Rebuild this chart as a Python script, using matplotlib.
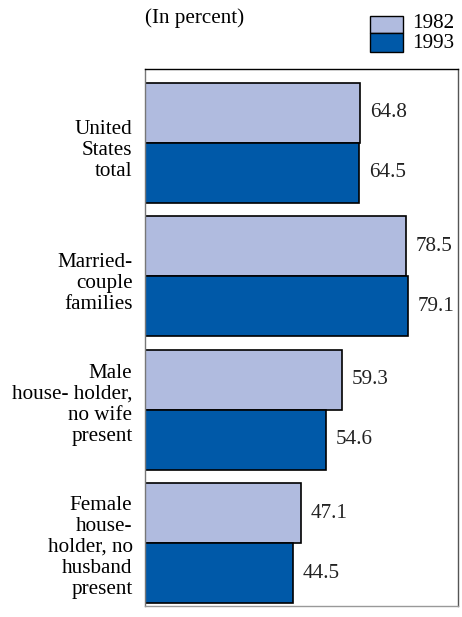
import numpy as np
import matplotlib.pyplot as plt
from matplotlib.patches import Rectangle

# dane
categories = ["United\nStates\ntotal", "Married-\ncouple\nfamilies",
              "Male\nhouse- holder,\nno wife\npresent",
              "Female\nhouse-\nholder, no\nhusband\npresent"]
v1982 = [64.8, 78.5, 59.3, 47.1]
v1993 = [64.5, 79.1, 54.6, 44.5]
years = ["1982", "1993"]

c_light = "#b0bbdf"
c_dark = "#0059a8"

plt.rcParams['font.family'] = ['Liberation Serif', 'DejaVu Serif']
fs = 15.2

fig = plt.figure(figsize=(4.62, 6.17), dpi=100)
ax = fig.add_axes([145/462, 11/617, 313/462, 537/617])

y = np.arange(len(categories))
h = 0.45
ax.barh(y - h/2, v1982, height=h, color=c_light, edgecolor='black', linewidth=1.2)
ax.barh(y + h/2, v1993, height=h, color=c_dark, edgecolor='black', linewidth=1.2)

# przesunięcie podpisów w pionie (punkty, dodatnie = w dół)
nudge = [-5.5, -5, 3.5, -3]

for i in range(len(categories)):
    ax.annotate(f"{v1982[i]:.1f}", (v1982[i], y[i] - h/2), xytext=(7, 0),
                textcoords='offset points', va='center', ha='left', fontsize=fs, color='#222222')
    ax.annotate(f"{v1993[i]:.1f}", (v1993[i], y[i] + h/2), xytext=(7, 0),
                textcoords='offset points', va='center', ha='left', fontsize=fs, color='#222222')
    ax.annotate(categories[i], (0, y[i]), xytext=(-9, nudge[i]), textcoords='offset points',
                ha='right', va='center', fontsize=fs, linespacing=1.14)

ax.set_xlim(0, 94.3)
ax.set_ylim(3.47, -0.553)
ax.set_xticks([])
ax.set_yticks([])
for s in ax.spines.values():
    s.set_linewidth(1.0)
ax.spines['left'].set_color('#777777')
ax.spines['bottom'].set_color('#999999')
ax.spines['right'].set_color('#555555')

# legenda i opis
fig.text(145/462, 1 - 18/617, "(In percent)", ha='left', va='center', fontsize=fs)
fig.add_artist(Rectangle((370/462, 1 - 33/617), 33/462, 17/617, transform=fig.transFigure,
                         facecolor=c_light, edgecolor='black', linewidth=1))
fig.add_artist(Rectangle((370/462, 1 - 52/617), 33/462, 19/617, transform=fig.transFigure,
                         facecolor=c_dark, edgecolor='black', linewidth=1))
fig.text(412/462, 1 - 24/617, years[0], ha='left', va='center', fontsize=fs)
fig.text(412/462, 1 - 43/617, years[1], ha='left', va='center', fontsize=fs)

fig.savefig("out.png", dpi=100)
